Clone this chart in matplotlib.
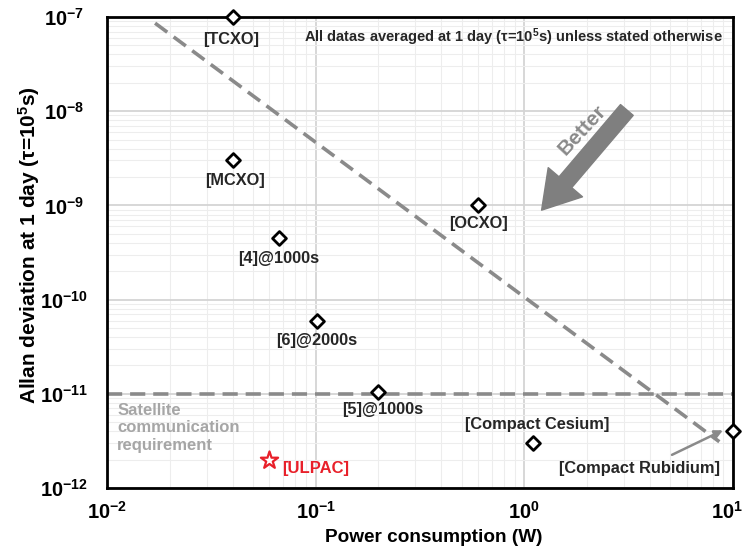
import matplotlib
matplotlib.use("Agg")
import matplotlib.pyplot as plt
from matplotlib.ticker import LogLocator, NullFormatter
from matplotlib.transforms import ScaledTranslation

plt.rcParams['font.family'] = ['Liberation Sans', 'DejaVu Sans']
plt.rcParams['font.weight'] = 'bold'
plt.rcParams['mathtext.fontset'] = 'custom'
plt.rcParams['mathtext.rm'] = 'Liberation Sans:bold'
plt.rcParams['mathtext.bf'] = 'Liberation Sans:bold'
plt.rcParams['mathtext.it'] = 'Liberation Sans:bold'
plt.rcParams['mathtext.default'] = 'bf'

# Oscillator references: power (W) and Allan deviation at 1 day
names = ["[TCXO]", "[MCXO]", "[4]@1000s", "[6]@2000s", "[5]@1000s",
         "[OCXO]", "[Compact Cesium]", "[Compact Rubidium]"]
power = [0.040, 0.040, 0.067, 0.101, 0.20, 0.60, 1.1, 10.0]
adev = [1.0e-7, 3.0e-9, 4.5e-10, 6.0e-11, 1.05e-11, 1.0e-9, 3.0e-12, 4.0e-12]

# This work
ulpac_power = [0.06]
ulpac_adev = [2.0e-12]

# Trend line and satellite requirement
trend_power = [0.017, 8.6]
trend_adev = [8.6e-8, 3.1e-12]
sat_req = 1e-11

xticks = [1e-2, 1e-1, 1e0, 1e1]
yticks = [1e-12, 1e-11, 1e-10, 1e-9, 1e-8, 1e-7]

fig = plt.figure(figsize=(7.45, 5.53), dpi=100)
ax = fig.add_axes([0.1436, 0.1175, 0.8403, 0.8518])
ax.set_xscale('log')
ax.set_yscale('log')
ax.set_xlim(xticks[0], xticks[-1])
ax.set_ylim(yticks[0], yticks[-1])
ax.set_xticks(xticks)
ax.set_yticks(yticks)

ax.xaxis.set_minor_locator(LogLocator(base=10, subs=range(2, 10), numticks=20))
ax.yaxis.set_minor_locator(LogLocator(base=10, subs=range(2, 10), numticks=20))
ax.xaxis.set_minor_formatter(NullFormatter())
ax.yaxis.set_minor_formatter(NullFormatter())
ax.grid(True, which='major', color='#d4d4d4', linewidth=1.3)
ax.grid(True, which='minor', color='#ededed', linewidth=0.8)
ax.set_axisbelow(True)
ax.tick_params(which='both', length=0, labelsize=14.5)
ax.tick_params(axis='x', pad=9)
ax.tick_params(axis='y', pad=31)
for lab in ax.get_yticklabels():
    lab.set_horizontalalignment('center')
# keep the rightmost power label inside the figure
xl = ax.get_xticklabels()
xl[-1].set_transform(xl[-1].get_transform() +
                     ScaledTranslation(-6 / 100, 0, fig.dpi_scale_trans))
for s in ax.spines.values():
    s.set_linewidth(2)
    s.set_color('black')

gray = '#8a8a8a'
ax.plot(trend_power, trend_adev, color=gray, lw=2.6, dashes=(4.2, 2.2))
ax.axhline(sat_req, color=gray, lw=2.6, dashes=(4.2, 2.2))

ax.scatter(power, adev, marker='D', s=50, facecolors='white',
           edgecolors='black', linewidths=2, zorder=5, clip_on=False)
ax.scatter(ulpac_power, ulpac_adev, marker='*', s=170, facecolors='white',
           edgecolors='#e8202a', linewidths=1.6, zorder=5, clip_on=False)

# Point labels (offsets in points from each marker)
offsets = [(-1, -16.5), (1.5, -14.4), (-0.7, -14.4), (0, -14.4), (3, -13),
           (0, -13), (3, 13.7), (-67, -26.6)]
for n, x, y, off in zip(names, power, adev, offsets):
    ax.annotate(n, (x, y), xytext=off, textcoords='offset points',
                ha='center', va='center', fontsize=11.8, fontweight='bold',
                color='#262626')

ax.annotate('[ULPAC]', (ulpac_power[0], ulpac_adev[0]), xytext=(9, -6.5),
            textcoords='offset points', ha='left', va='center',
            fontsize=12, fontweight='bold', color='#e8202a')

# Pointer to the rubidium entry
ax.annotate('', xy=(8.95, 4.1e-12), xytext=(5.1, 2.25e-12),
            arrowprops=dict(arrowstyle='-|>', color=gray, lw=1.8,
                            mutation_scale=12, shrinkA=0, shrinkB=0))

# "Better" direction arrow
ax.annotate('', xy=(1.21, 8.9e-10), xytext=(3.1, 1.03e-8),
            arrowprops=dict(arrowstyle='simple,head_length=1.32,head_width=1.62,tail_width=0.6',
                            color='#7f7f7f', mutation_scale=20,
                            shrinkA=0, shrinkB=0))
ax.text(1.9, 6.3e-9, 'Better', rotation=47, ha='center', va='center',
        fontsize=15, fontweight='bold', color='#8a8a8a')

ax.text(0.0112, 8.0e-12, 'Satellite\ncommunication\nrequirement',
        ha='left', va='top', fontsize=12, fontweight='bold',
        color='#a6a6a6', linespacing=1.2)

ax.text(0.984, 0.958, r'All datas averaged at 1 day (τ=10$^{5}$s) unless stated otherwise',
        transform=ax.transAxes, ha='right', va='center', fontsize=10.5,
        fontweight='bold', color='#262626')

ax.set_xlabel('Power consumption (W)', fontsize=13.7, fontweight='bold')
ax.set_ylabel(r'Allan deviation at 1 day (τ=10$^{5}$s)', fontsize=15,
              fontweight='bold')
ax.xaxis.set_label_coords(0.522, -0.088)
ax.yaxis.set_label_coords(-0.104, 0.516)

fig.savefig('out.png', dpi=100)
